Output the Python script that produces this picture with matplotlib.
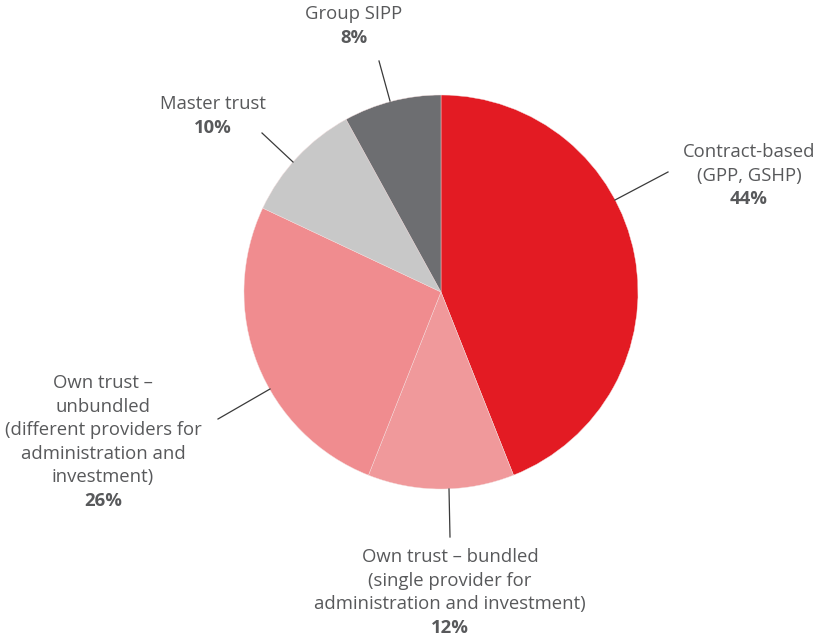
import matplotlib
matplotlib.use("Agg")
import matplotlib.pyplot as plt

categories = ["Contract-based\n(GPP, GSHP)",
              "Own trust – bundled\n(single provider for\nadministration and investment)",
              "Own trust –\nunbundled\n(different providers for\nadministration and\ninvestment)",
              "Master trust",
              "Group SIPP"]
values = [44, 12, 26, 10, 8]
pct_labels = ["44%", "12%", "26%", "10%", "8%"]
colors = ["#e31b23", "#f0999b", "#f08c8f", "#c8c8c8", "#6d6e71"]

W, H = 816, 641
fig = plt.figure(figsize=(W / 100, H / 100), dpi=100)
ax = fig.add_axes([0, 0, 1, 1])

cx, cy, r = 441, H - 292, 197
ax.pie(values, colors=colors, startangle=90, counterclock=False,
       center=(cx, cy), radius=r, frame=True,
       wedgeprops=dict(edgecolor="#f4dede", linewidth=0.3))
ax.set_xlim(0, W)
ax.set_ylim(0, H)
ax.set_aspect("equal")
ax.axis("off")

txt = "#58595b"
font = "Open Sans"

# leader lines (pixel coords, y from top)
lines = [((615, 200), (668, 172)),
         ((449, 489), (450, 537)),
         ((270, 389), (218, 419)),
         ((293, 162), (262, 133)),
         ((390, 101), (379, 61))]
for (x1, y1), (x2, y2) in lines:
    ax.plot([x1, x2], [H - y1, H - y2], color="#3a3a3a", lw=0.9)

label_pos = [(749, 152), (450, 557), (103, 383), (213, 104), (354, 14)]
lh = 23.6
for cat, pct, (x, y) in zip(categories, pct_labels, label_pos):
    lines_txt = cat.split("\n")
    for i, t in enumerate(lines_txt):
        ax.text(x, H - (y + i * lh), t, ha="center", va="center",
                fontsize=13.3, color=txt, family=font)
    ax.text(x, H - (y + len(lines_txt) * lh), pct, ha="center", va="center",
            fontsize=13.3, color=txt, family=font, fontweight="bold")

fig.savefig("out.png", dpi=100)
